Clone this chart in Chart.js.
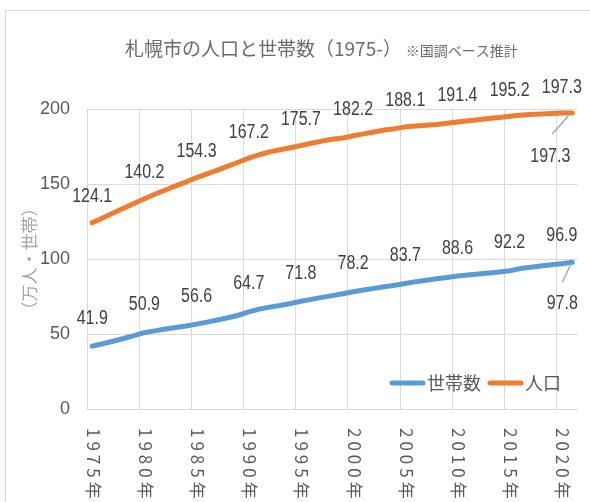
<!DOCTYPE html>
<html>
<head>
<meta charset="utf-8">
<script src="https://cdn.jsdelivr.net/npm/chart.js@4.4.1/dist/chart.umd.min.js"></script>
<style>
html,body{margin:0;padding:0;background:#fff;}
#wrap{position:relative;width:590px;height:502px;}
</style>
</head>
<body>
<div id="wrap"><canvas id="c" width="590" height="502"></canvas></div>
<script>
// ---- data ----
const years = ['1975','1976','1977','1978','1979','1980','1981','1982','1983','1984',
  '1985','1986','1987','1988','1989','1990','1991','1992','1993','1994',
  '1995','1996','1997','1998','1999','2000','2001','2002','2003','2004',
  '2005','2006','2007','2008','2009','2010','2011','2012','2013','2014',
  '2015','2016','2017','2018','2019','2020','2021'];
const households = [41.9,43.5,45.2,47.0,48.9,50.9,52.1,53.3,54.3,55.3,
  56.6,57.9,59.3,60.8,62.5,64.7,66.6,67.9,69.0,70.3,
  71.8,73.1,74.4,75.6,76.8,78.2,79.3,80.4,81.5,82.5,
  83.7,84.9,85.8,86.8,87.7,88.6,89.3,90.0,90.7,91.4,
  92.2,93.6,94.5,95.3,96.1,96.9,97.8];
const population = [124.1,127.4,130.6,133.8,137.0,140.2,143.2,146.0,148.7,151.4,
  154.3,156.8,159.3,161.9,164.5,167.2,169.5,171.4,172.8,174.2,
  175.7,177.2,178.6,179.8,180.6,182.2,183.4,184.7,186.0,186.9,
  188.1,188.6,189.1,189.7,190.5,191.4,192.1,192.9,193.6,194.4,
  195.2,195.8,196.3,196.7,197.0,197.3,197.3];
const xTickLabels = ['1975年','1980年','1985年','1990年','1995年','2000年','2005年','2010年','2015年','2020年'];
const yTicks = [0,50,100,150,200];
const seriesNames = ['世帯数','人口'];
const titleMain = '札幌市の人口と世帯数（1975-）';
const titleNote = '※国調ベース推計';
const yAxisTitle = '（万人・世帯）';

// ---- styles ----
const NUM_FONT = '"Liberation Sans","Noto Sans CJK JP",sans-serif';
const JP_FONT = '"Noto Sans CJK JP","Noto Sans",sans-serif';
const colors = ['#5b9bd5','#ed7d31'];
const labelOffsets = [
  {above:28, endDx:-10, endDy:41, lead:[-10,20,-1,1]},
  {above:26, endDx:-22, endDy:43, lead:[-20,21,-4,3]}
];
const EVERY = 5;
const NARROW = 0.8;

const framePlugin = {
  id:'frame',
  beforeDraw(chart){
    const ctx = chart.ctx;
    ctx.save();
    ctx.fillStyle = '#fff';
    ctx.fillRect(0,0,chart.width,chart.height);
    ctx.strokeStyle = '#d9d9d9';
    ctx.lineWidth = 1;
    ctx.strokeRect(5.5,10.5,chart.width+20,chart.height+20);
    ctx.restore();
  }
};

const titlePlugin = {
  id:'ttl',
  afterDraw(chart){
    const ctx = chart.ctx;
    ctx.save();
    ctx.fillStyle = '#6b6b6b';
    ctx.textBaseline = 'alphabetic';
    ctx.textAlign = 'left';
    ctx.font = '19px ' + JP_FONT;
    const x0 = 125, y0 = 56;
    ctx.fillText(titleMain, x0, y0);
    const w = ctx.measureText(titleMain).width;
    ctx.font = '14px ' + JP_FONT;
    ctx.fillText(titleNote, x0 + w + 4, y0);
    ctx.restore();
  }
};

const xLabelPlugin = {
  id:'xl',
  afterDraw(chart){
    const ctx = chart.ctx;
    const xs = chart.scales.x;
    const top = chart.chartArea.bottom + 19;
    ctx.save();
    ctx.fillStyle = '#595959';
    ctx.font = '17px ' + JP_FONT;
    try { ctx.letterSpacing = '4px'; } catch(e) {}
    ctx.textAlign = 'left';
    ctx.textBaseline = 'middle';
    xTickLabels.forEach((t,k)=>{
      const x = xs.getPixelForValue(k*EVERY);
      ctx.save();
      ctx.translate(x+1, top);
      ctx.rotate(Math.PI/2);
      ctx.fillText(t,0,0);
      ctx.restore();
    });
    ctx.restore();
  }
};

function narrowText(ctx, text, x, y){
  ctx.save();
  ctx.translate(x, y);
  ctx.scale(NARROW, 1);
  ctx.fillText(text, 0, 0);
  ctx.restore();
}

const dataLabelPlugin = {
  id:'dl',
  afterDatasetsDraw(chart){
    const ctx = chart.ctx;
    ctx.save();
    ctx.font = '20px ' + NUM_FONT;
    ctx.fillStyle = '#404040';
    ctx.textAlign = 'center';
    ctx.textBaseline = 'middle';
    chart.data.datasets.forEach((ds,di)=>{
      const meta = chart.getDatasetMeta(di);
      const o = labelOffsets[di];
      const n = meta.data.length;
      meta.data.forEach((pt,i)=>{
        if (i % EVERY === 0) narrowText(ctx, ds.data[i].toFixed(1), pt.x, pt.y - o.above);
      });
      const pt = meta.data[n-1];
      ctx.strokeStyle = '#a6a6a6';
      ctx.lineWidth = 1.5;
      ctx.beginPath();
      ctx.moveTo(pt.x + o.lead[0], pt.y + o.lead[1]);
      ctx.lineTo(pt.x + o.lead[2], pt.y + o.lead[3]);
      ctx.stroke();
      narrowText(ctx, ds.data[n-1].toFixed(1), pt.x + o.endDx, pt.y + o.endDy);
    });
    ctx.restore();
  }
};

const legendPlugin = {
  id:'lg',
  afterDraw(chart){
    const ctx = chart.ctx;
    const ca = chart.chartArea;
    let x = ca.left + 303;
    const y = ca.bottom - 26;
    ctx.save();
    ctx.font = '18px ' + JP_FONT;
    ctx.textBaseline = 'middle';
    ctx.textAlign = 'left';
    chart.data.datasets.forEach(ds=>{
      ctx.strokeStyle = ds.borderColor;
      ctx.lineWidth = 5;
      ctx.lineCap = 'round';
      ctx.beginPath();
      ctx.moveTo(x+2, y); ctx.lineTo(x+33, y);
      ctx.stroke();
      ctx.fillStyle = '#595959';
      ctx.fillText(ds.label, x+37, y);
      x += 37 + ctx.measureText(ds.label).width + 7;
    });
    ctx.restore();
  }
};

new Chart(document.getElementById('c'), {
  type:'line',
  data:{
    labels: years,
    datasets:[
      {label:seriesNames[0], data:households, borderColor:colors[0], backgroundColor:colors[0]},
      {label:seriesNames[1], data:population, borderColor:colors[1], backgroundColor:colors[1]}
    ]
  },
  options:{
    responsive:false,
    animation:false,
    devicePixelRatio:1,
    layout:{padding:{left:0, top:109, right:12.5, bottom:93}},
    elements:{
      line:{borderWidth:5, tension:0, borderCapStyle:'round', borderJoinStyle:'round', fill:false},
      point:{radius:0, hoverRadius:0}
    },
    plugins:{legend:{display:false}, title:{display:false}, tooltip:{enabled:false}},
    scales:{
      x:{
        type:'category',
        offset:true,
        grid:{offset:true, drawTicks:false, lineWidth:1,
          color:(c)=> (c.index % EVERY === 0) ? '#d9d9d9' : 'rgba(0,0,0,0)'},
        border:{display:false},
        ticks:{display:false},
        afterFit(s){ s.height = 0; }
      },
      y:{
        min:0, max:200,
        afterBuildTicks(s){ s.ticks = yTicks.map(v=>({value:v})); },
        grid:{color:'#d9d9d9', drawTicks:false, lineWidth:1},
        border:{display:false},
        ticks:{padding:17, color:'#595959', font:{family:NUM_FONT, size:18}},
        title:{display:true, text:yAxisTitle, color:'#a6a6a6', padding:{top:19,bottom:0},
          font:{family:JP_FONT, size:17}},
        afterFit(s){ s.width = 87; }
      }
    }
  },
  plugins:[framePlugin, titlePlugin, xLabelPlugin, dataLabelPlugin, legendPlugin]
});
</script>
</body>
</html>
